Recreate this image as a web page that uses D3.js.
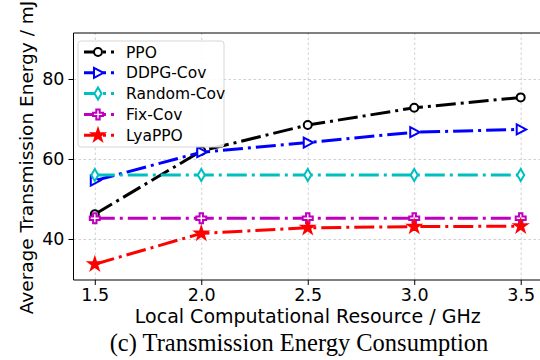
<!DOCTYPE html>
<html>
<head>
<meta charset="utf-8">
<script src="https://cdn.jsdelivr.net/npm/d3@7"></script>
<style>
  html, body { margin: 0; padding: 0; background: #fff; }
  svg { display: block; font-family: "DejaVu Sans", sans-serif; }
  .grid line { stroke: #d0d0d0; stroke-dasharray: 2.5,2.5; stroke-width: 1; }
  .grid path { display: none; }
  .axis path, .axis line { stroke: #000; stroke-width: 1; }
  .axis text { font-size: 17.5px; fill: #000; font-family: "DejaVu Sans", sans-serif; }
</style>
</head>
<body>
<svg id="chart" width="540" height="360"></svg>
<script>
// Chart data
const resources = [1.5, 2.0, 2.5, 3.0, 3.5];
const ppo = [46.2, 62.0, 68.5, 72.8, 75.4];
const ddpgCov = [54.6, 61.7, 64.1, 66.7, 67.4];
const randomCov = [56.0, 56.0, 56.0, 56.0, 56.0];
const fixCov = [45.2, 45.2, 45.2, 45.2, 45.2];
const lyaPpo = [33.7, 41.4, 42.8, 43.1, 43.2];
const xTicks = [1.5, 2.0, 2.5, 3.0, 3.5];
const yTicks = [40, 60, 80];
const seriesNames = ['PPO', 'DDPG-Cov', 'Random-Cov', 'Fix-Cov', 'LyaPPO'];

(function() {
    'use strict';

    const svg = d3.select('#chart');
    const margin = { top: 33, right: -2, bottom: 80, left: 73.5 };
    const width = 540 - margin.left - margin.right;
    const height = 360 - margin.top - margin.bottom;

    const series = [
        { name: seriesNames[0], values: ppo, color: '#000000', marker: 'circle', fill: '#fff' },
        { name: seriesNames[1], values: ddpgCov, color: '#0000ff', marker: 'triangle', fill: '#fff' },
        { name: seriesNames[2], values: randomCov, color: '#00bfbf', marker: 'diamond', fill: '#fff' },
        { name: seriesNames[3], values: fixCov, color: '#bf00bf', marker: 'plus', fill: '#fff' },
        { name: seriesNames[4], values: lyaPpo, color: '#ff0000', marker: 'star', fill: '#ff0000' }
    ];

    const x = d3.scaleLinear().domain([1.4, 3.6]).range([0, width]);
    const y = d3.scaleLinear().domain([29.75, 91.5]).range([height, 0]);

    const g = svg.append('g')
        .attr('transform', `translate(${margin.left},${margin.top})`);

    // Grid
    g.append('g')
        .attr('class', 'grid')
        .attr('transform', `translate(0,${height})`)
        .call(d3.axisBottom(x).tickValues(xTicks).tickSize(-height).tickFormat(''));
    g.append('g')
        .attr('class', 'grid')
        .call(d3.axisLeft(y).tickValues(yTicks).tickSize(-width).tickFormat(''));

    // Axes
    g.append('g')
        .attr('class', 'axis')
        .attr('transform', `translate(0,${height})`)
        .call(d3.axisBottom(x).tickValues(xTicks).tickSize(5).tickPadding(4).tickFormat(d3.format('.1f')))
        .call(a => a.select('.domain').attr('d', `M0,0H${width}`));
    g.append('g')
        .attr('class', 'axis')
        .call(d3.axisLeft(y).tickValues(yTicks).tickSize(5).tickPadding(4))
        .call(a => a.select('.domain').attr('d', `M0,0V${height}`));

    // top spine
    g.append('line')
        .attr('x1', 0).attr('x2', width)
        .attr('y1', 0).attr('y2', 0)
        .attr('stroke', '#000').attr('stroke-width', 1);

    // Axis labels
    g.append('text')
        .attr('x', width / 2)
        .attr('y', height + 43.3)
        .attr('text-anchor', 'middle')
        .style('font-size', '19px')
        .text('Local Computational Resource / GHz');

    g.append('text')
        .attr('transform', 'rotate(-90)')
        .attr('x', -height / 2 - 1)
        .attr('y', -40.5)
        .attr('text-anchor', 'middle')
        .style('font-size', '18.5px')
        .text('Average Transmission Energy / mJ');

    // Caption
    svg.append('text')
        .attr('x', 299)
        .attr('y', 351)
        .attr('text-anchor', 'middle')
        .style('font-family', '"Liberation Serif", "DejaVu Serif", serif')
        .style('font-size', '24.5px')
        .text('(c) Transmission Energy Consumption');

    function markerPath(type) {
        switch (type) {
            case 'circle': return d3.symbol(d3.symbolCircle, 50)();
            case 'triangle': return 'M-4,-5L5.5,0L-4,5Z';
            case 'diamond': return 'M0,-6L3.5,0L0,6L-3.5,0Z';
            case 'plus': return 'M-1.7,-5H1.7V-1.7H5V1.7H1.7V5H-1.7V1.7H-5V-1.7H-1.7Z';
            case 'star': return d3.symbol(d3.symbolStar, 45)();
        }
    }

    const line = d3.line()
        .x((d, i) => x(resources[i]))
        .y(d => y(d));

    const dash = '20,5,3,5';

    series.forEach(s => {
        g.append('path')
            .datum(s.values)
            .attr('fill', 'none')
            .attr('stroke', s.color)
            .attr('stroke-width', 3)
            .attr('stroke-dasharray', dash)
            .attr('d', line);

        g.selectAll(null)
            .data(s.values)
            .enter()
            .append('path')
            .attr('d', markerPath(s.marker))
            .attr('transform', (d, i) => `translate(${x(resources[i])},${y(d)})`)
            .attr('fill', s.fill)
            .attr('stroke', s.color)
            .attr('stroke-width', 2);
    });

    // Legend
    const lg = svg.append('g').attr('transform', 'translate(78,41)');
    lg.append('rect')
        .attr('width', 146).attr('height', 106)
        .attr('rx', 3)
        .attr('fill', '#fff').attr('fill-opacity', 0.85)
        .attr('stroke', '#d6d6d6').attr('stroke-width', 1);

    series.forEach((s, i) => {
        const row = lg.append('g').attr('transform', `translate(0,${11 + i * 20.8})`);
        row.append('line')
            .attr('x1', 6).attr('x2', 36)
            .attr('y1', 0).attr('y2', 0)
            .attr('stroke', s.color)
            .attr('stroke-width', 3)
            .attr('stroke-dasharray', '14,5,3,5');
        row.append('path')
            .attr('d', markerPath(s.marker))
            .attr('transform', 'translate(20,0)')
            .attr('fill', s.fill)
            .attr('stroke', s.color)
            .attr('stroke-width', 2);
        row.append('text')
            .attr('x', 48)
            .attr('y', 5.5)
            .style('font-size', '15.5px')
            .text(s.name);
    });
})();
</script>
</body>
</html>
